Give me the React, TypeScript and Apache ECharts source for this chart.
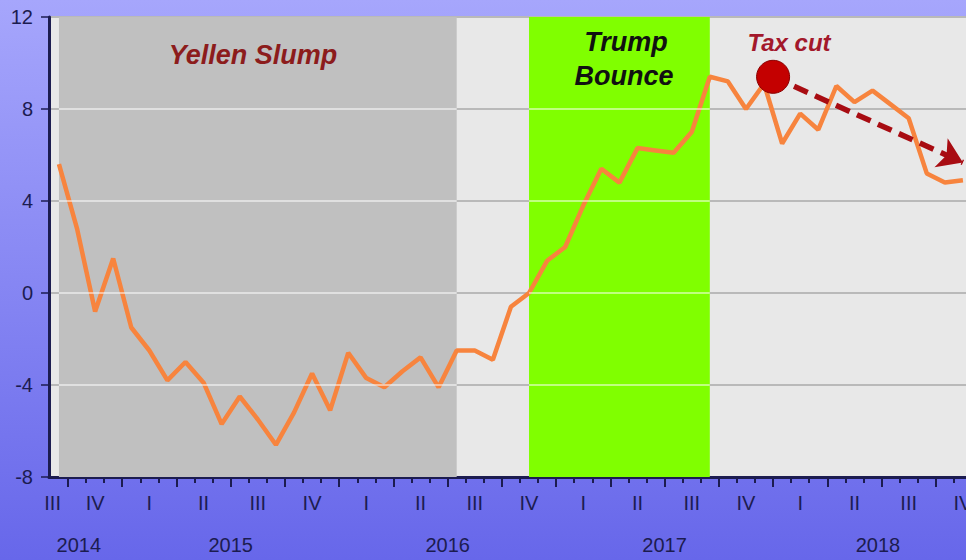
import React, { useEffect, useRef } from "react";
import * as echarts from "echarts";

// ---- data ----
const months = [
  "2014-09", "2014-10", "2014-11", "2014-12",
  "2015-01", "2015-02", "2015-03", "2015-04", "2015-05", "2015-06", "2015-07", "2015-08", "2015-09", "2015-10", "2015-11", "2015-12",
  "2016-01", "2016-02", "2016-03", "2016-04", "2016-05", "2016-06", "2016-07", "2016-08", "2016-09", "2016-10", "2016-11", "2016-12",
  "2017-01", "2017-02", "2017-03", "2017-04", "2017-05", "2017-06", "2017-07", "2017-08", "2017-09", "2017-10", "2017-11", "2017-12",
  "2018-01", "2018-02", "2018-03", "2018-04", "2018-05", "2018-06", "2018-07", "2018-08", "2018-09", "2018-10", "2018-11",
];

const values = [
  5.6, 2.8, -0.8, 1.5,
  -1.5, -2.5, -3.8, -3.0, -3.9, -5.7, -4.5, -5.5, -6.6, -5.2, -3.5, -5.1,
  -2.6, -3.7, -4.1, -3.4, -2.8, -4.1, -2.5, -2.5, -2.9, -0.6, 0.0, 1.4,
  2.0, 3.8, 5.4, 4.8, 6.3, 6.2, 6.1, 7.0, 9.4, 9.2, 8.0, 9.1,
  6.5, 7.8, 7.1, 9.0, 8.3, 8.8, 8.2, 7.6, 5.2, 4.8, 4.9,
];

const quarterLabelPos = [-0.35, 2, 5, 8, 11, 14, 17, 20, 23, 26, 29, 32, 35, 38, 41, 44, 47, 50];
const quarterLabels = ["III", "IV", "I", "II", "III", "IV", "I", "II", "III", "IV", "I", "II", "III", "IV", "I", "II", "III", "IV"];

const yearLabelPos = [1.1, 9.5, 21.5, 33.5, 45.3];
const yearLabels = ["2014", "2015", "2016", "2017", "2018"];

const yTicks = [-8, -4, 0, 4, 8, 12];

const yellenRange = ["2014-09", "2016-07"];
const trumpRange = ["2016-11", "2017-09"];

const taxCutPoint = [39.5, 9.4];
const trendEnd = [50.0, 5.67];

// ---- derived ----
const idx = (m: string) => months.indexOf(m);
const monthBoundaries = months.slice(1).map((_, i) => i + 0.5);
const quarterBoundaries = months
  .slice(1)
  .map((m, i) => ({ m, b: i + 0.5 }))
  .filter(({ m }) => ["01", "04", "07", "10"].includes(m.slice(5)))
  .map(({ b }) => b);

const FONT = "'Liberation Sans', Arial, sans-serif";
const AXIS_COLOR = "#1c1c50";

export default function App() {
  const ref = useRef<HTMLDivElement>(null);

  useEffect(() => {
    if (!ref.current) return;
    const chart = echarts.init(ref.current, null, { renderer: "svg" });

    const xMin = -0.55;
    const xMax = 50.17;

    const shadedRanges = [
      { r: yellenRange, color: "#c0c0c0" },
      { r: trumpRange, color: "#80ff00" },
    ];

    const overlayGrid: any[] = [];
    shadedRanges.forEach(({ r }) => {
      yTicks
        .filter((t) => t > -8 && t < 12)
        .forEach((t) => {
          overlayGrid.push([{ coord: [idx(r[0]), t] }, { coord: [idx(r[1]), t] }]);
        });
    });

    const textStyle = (text: string, size: number, fill: string) => ({
      text,
      font: `italic bold ${size}px ${FONT}`,
      fill,
      textAlign: "center",
      textVerticalAlign: "middle",
    });

    const option: any = {
      animation: false,
      backgroundColor: new echarts.graphic.LinearGradient(0, 0, 0, 1, [
        { offset: 0, color: "#a6a6fc" },
        { offset: 1, color: "#6767ea" },
      ]),
      grid: {
        left: 49,
        right: 0,
        top: 17,
        bottom: 83,
        show: true,
        backgroundColor: "#e8e8e8",
        borderWidth: 0,
        outerBoundsMode: "none",
        containLabel: false,
      },
      xAxis: [
        {
          type: "value",
          min: xMin,
          max: xMax,
          position: "bottom",
          axisLine: { show: true, onZero: false, lineStyle: { color: AXIS_COLOR, width: 3 } },
          axisTick: {
            show: true,
            customValues: monthBoundaries,
            length: 6,
            lineStyle: { color: AXIS_COLOR, width: 2 },
          },
          axisLabel: {
            customValues: quarterLabelPos,
            formatter: (v: number) => quarterLabels[quarterLabelPos.indexOf(v)] ?? "",
            color: AXIS_COLOR,
            fontSize: 20,
            fontFamily: FONT,
            margin: 16,
          },
          splitLine: { show: false },
        },
        {
          type: "value",
          min: xMin,
          max: xMax,
          position: "bottom",
          offset: 0,
          axisLine: { show: false, onZero: false },
          axisTick: {
            show: true,
            customValues: quarterBoundaries,
            length: 10,
            lineStyle: { color: AXIS_COLOR, width: 2 },
          },
          axisLabel: {
            customValues: yearLabelPos,
            formatter: (v: number) => yearLabels[yearLabelPos.indexOf(v)] ?? "",
            color: AXIS_COLOR,
            fontSize: 20,
            fontFamily: FONT,
            margin: 58,
          },
          splitLine: { show: false },
        },
      ],
      yAxis: {
        type: "value",
        min: -8,
        max: 12,
        interval: 4,
        axisLine: { show: true, onZero: false, lineStyle: { color: AXIS_COLOR, width: 3 } },
        axisTick: { show: true, length: 8, lineStyle: { color: AXIS_COLOR, width: 1.5 } },
        axisLabel: { color: AXIS_COLOR, fontSize: 20, fontFamily: FONT, margin: 16 },
        splitLine: { show: true, lineStyle: { color: "#b9b9b9", width: 2 } },
      },
      series: [
        {
          type: "line",
          data: [],
          z: 1,
          silent: true,
          markArea: {
            silent: true,
            data: shadedRanges.map(({ r, color }) => [
              { xAxis: idx(r[0]), yAxis: -8, itemStyle: { color, opacity: 1 } },
              { xAxis: idx(r[1]), yAxis: 12 },
            ]),
          },
        },
        {
          type: "line",
          data: [],
          z: 2,
          silent: true,
          markLine: {
            silent: true,
            symbol: ["none", "none"],
            label: { show: false },
            lineStyle: { color: "rgba(255,255,255,0.5)", width: 2, type: "solid" },
            data: overlayGrid,
          },
        },
        {
          type: "line",
          data: values.map((v, i) => [i, v]),
          z: 3,
          showSymbol: false,
          symbol: "none",
          lineStyle: { color: "#f7843e", width: 4.5 },
          itemStyle: { color: "#f7843e" },
        },
        {
          type: "line",
          data: [],
          z: 4,
          silent: true,
          markLine: {
            silent: true,
            symbol: ["none", "arrow"],
            symbolSize: 24,
            label: { show: false },
            lineStyle: { color: "#a80c12", width: 5.5, type: [15, 8] },
            data: [[{ coord: taxCutPoint }, { coord: trendEnd }]],
          },
          markPoint: {
            silent: true,
            symbol: "circle",
            symbolSize: 33,
            label: { show: false },
            itemStyle: { color: "#c40000", borderColor: "#8a0000", borderWidth: 1 },
            data: [{ coord: taxCutPoint }],
          },
        },
      ],
      graphic: [
        { type: "text", z: 100, x: 253, y: 55, style: textStyle("Yellen Slump", 27, "#8c1c1c") },
        { type: "text", z: 100, x: 626, y: 42, style: textStyle("Trump", 27, "#111111") },
        { type: "text", z: 100, x: 624, y: 76, style: textStyle("Bounce", 27, "#111111") },
        { type: "text", z: 100, x: 789, y: 42, style: textStyle("Tax cut", 24, "#a3182b") },
      ],
    };

    chart.setOption(option);
    return () => chart.dispose();
  }, []);

  return (
    <div
      ref={ref}
      style={{ position: "fixed", left: 0, top: 0, width: 966, height: 560 }}
    />
  );
}
